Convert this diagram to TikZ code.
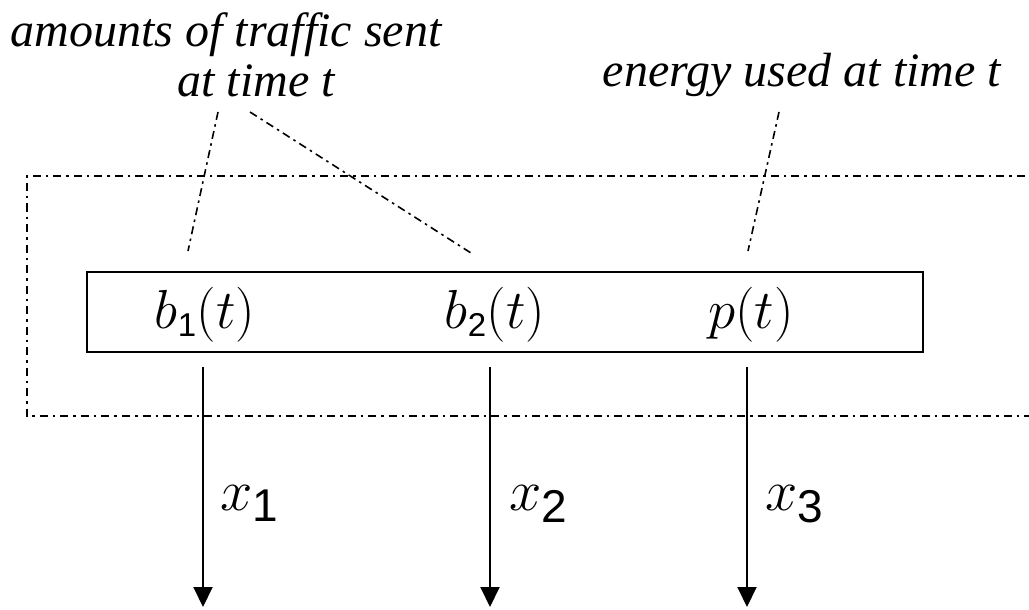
\RequirePackage{fix-cm}
\documentclass[tikz,border=0pt]{standalone}
\usepackage{fontspec}
\newfontfamily\notefont{Liberation Serif Italic}
\newfontfamily\digitfont{Liberation Sans}
\usetikzlibrary{arrows.meta}

% sans-serif digit used as an index, at a given size
\newcommand{\sdig}[2]{\mbox{\digitfont\fontsize{#1}{#1}\selectfont #2}}

\begin{document}
\begin{tikzpicture}[x=1pt,y=-1pt,
  note/.style={font=\notefont\fontsize{48}{58}\selectfont, inner sep=0pt, anchor=base},
  var/.style={font=\fontsize{55}{65}\selectfont, inner sep=0pt, anchor=base},
  flowlabel/.style={font=\fontsize{58}{68}\selectfont, inner sep=0pt, anchor=base west},
  leader/.style={line width=1.6pt, dash pattern=on 8pt off 4.5pt on 2.5pt off 4.5pt},
  frame/.style={line width=1.7pt, dash pattern=on 8pt off 5pt on 2.5pt off 5pt},
  block/.style={draw, line width=2pt, inner sep=0pt},
  flow/.style={line width=2pt, -{Triangle[length=20pt,width=19pt]}},
]
\clip (0,0) rectangle (1029,610);

% annotations
\node[note] (traffic) at (226,47) {amounts of traffic sent};
\node[note] (time) at (256,97) {at time t};
\node[note] (energy) at (802,87) {energy used at time t};

% system boundary, open to the right
\draw[frame] (1045,176) -- (27,176) -- (27,416) -- (1045,416);

% block holding the state variables
\node[block, minimum width=836pt, minimum height=80pt] (box) at (505,312) {};
\node[var] (b1) at (205,328) {$b_{\sdig{33}{1}}(t)$};
\node[var] (b2) at (495,328) {$b_{\sdig{33}{2}}(t)$};
\node[var] (p) at (751,328) {$p(t)$};

% leader lines from the annotations
\coordinate (t1) at (218,112);
\coordinate (t2) at (250,112);
\coordinate (e1) at (779,112);
\coordinate (b1end) at (188,251);
\coordinate (b2end) at (471,253);
\coordinate (pend) at (748,251);
\draw[leader] (t1) -- (b1end);
\draw[leader] (t2) -- (b2end);
\draw[leader] (e1) -- (pend);

% outgoing flows
\coordinate (s1) at (203,367);
\coordinate (s2) at (490,367);
\coordinate (s3) at (747,367);
\coordinate (f1) at (203,607);
\coordinate (f2) at (490,607);
\coordinate (f3) at (747,607);
\draw[flow] (s1) -- (f1);
\draw[flow] (s2) -- (f2);
\draw[flow] (s3) -- (f3);

\node[flowlabel] (x1) at (220,510) {$x_{\sdig{46}{1}}$};
\node[flowlabel] (x2) at (509,510) {$x_{\sdig{46}{2}}$};
\node[flowlabel] (x3) at (765,510) {$x_{\sdig{46}{3}}$};
\end{tikzpicture}
\end{document}
